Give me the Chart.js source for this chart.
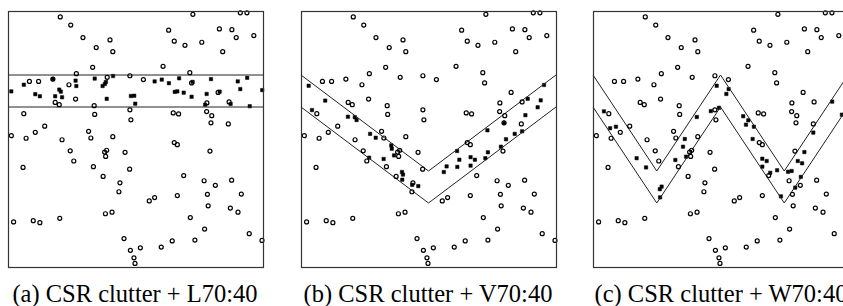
<!DOCTYPE html>
<html>
<head>
<meta charset="utf-8">
<script src="https://cdn.jsdelivr.net/npm/chart.js@4.4.1/dist/chart.umd.min.js"></script>
<style>
body { margin: 0; background: #fff; width: 843px; height: 306px; overflow: hidden; position: relative; }
.panel { position: absolute; top: 5px; width: 267px; height: 268px; }
.caption { position: absolute; top: 280px; width: 300px; text-align: center; font-family: "Liberation Serif", "DejaVu Serif", serif; font-size: 24.5px; color: #000; white-space: nowrap; }
</style>
</head>
<body>
<div class="panel" style="left:2px"><canvas id="chartA"></canvas></div>
<div class="panel" style="left:295px"><canvas id="chartB"></canvas></div>
<div class="panel" style="left:587px"><canvas id="chartC"></canvas></div>
<div class="caption" style="left:-15px">(a) CSR clutter + L70:40</div>
<div class="caption" style="left:278px">(b) CSR clutter + V70:40</div>
<div class="caption" style="left:571px">(c) CSR clutter + W70:40</div>
<script>
// CSR clutter, same in all three panels (unit square scaled to 0..100)
const clutterX = [20.5, 24.6, 29.4, 40.0, 34.6, 41.1, 33.2, 26.8, 47.8, 38.9, 8.4, 12.0, 17.6, 23.9, 26.5, 18.5, 20.1, 33.8, 47.8, 6.2,
  34.0, 48.2, 14.4, 10.7, 31.6, 1.3, 7.1, 21.2, 32.5, 41.1, 72.5, 91.1, 93.7, 63.0, 82.9, 87.8, 89.5, 96.4, 65.2, 69.4,
  76.0, 84.2, 60.8, 71.3, 53.1, 72.0, 82.4, 64.8, 66.9, 77.9, 79.9, 78.0, 86.7, 79.6, 86.4, 24.4, 37.9, 38.7, 38.3, 45.9,
  5.9, 25.8, 33.5, 47.7, 37.3, 43.9, 43.5, 2.2, 9.9, 12.5, 20.3, 38.2, 40.8, 45.5, 48.0, 49.4, 49.8, 65.2, 66.4, 79.2,
  68.9, 76.9, 81.3, 87.7, 55.4, 57.5, 66.4, 78.2, 91.5, 78.5, 87.2, 90.2, 71.5, 77.1, 94.6, 99.6, 73.3, 64.4, 60.1, 51.9];
const clutterY = [97.7, 94.5, 89.6, 88.7, 85.7, 84.1, 78.0, 75.5, 74.7, 74.1, 72.5, 72.5, 73.4, 71.2, 65.6, 64.3, 63.4, 63.0, 61.4, 59.9,
  59.6, 57.5, 55.0, 52.6, 53.0, 51.3, 50.3, 49.7, 50.4, 50.9, 98.7, 99.3, 99.3, 92.5, 93.0, 92.7, 89.6, 90.4, 88.2, 86.6,
  87.8, 84.1, 78.4, 75.9, 73.2, 71.9, 68.2, 60.2, 59.8, 60.7, 59.1, 64.1, 64.5, 56.3, 55.9, 45.4, 44.9, 45.6, 43.2, 44.8,
  38.9, 41.4, 39.2, 38.2, 35.4, 32.9, 29.4, 17.6, 18.1, 17.3, 19.0, 20.8, 21.4, 11.1, 6.5, 3.6, 1.4, 48.6, 47.8, 45.3,
  35.7, 33.7, 31.9, 33.9, 25.8, 27.1, 27.9, 28.4, 28.5, 23.9, 23.0, 21.4, 19.3, 14.8, 13.0, 10.4, 10.5, 10.2, 7.8, 7.5];

// signal points, line (L), V and W shapes
const lineX = [1.3, 6.2, 10.7, 12.5, 17.6, 20.1, 20.7, 18.5, 21.2, 26.5, 26.8, 34.0, 37.1, 38.0, 38.4, 41.2, 38.7, 48.2, 49.5, 49.9,
  57.5, 60.3, 63.1, 67.1, 72.4, 79.6, 90.1, 93.8, 91.1, 99.7, 65.4, 66.4, 68.9, 72.0, 77.9, 83.0, 77.3, 87.3, 94.8];
const lineY = [68.6, 71.2, 67.5, 66.7, 73.4, 69.3, 68.5, 66.7, 66.3, 72.8, 70.7, 73.6, 70.7, 71.5, 72.3, 74.6, 65.7, 66.8, 66.9, 63.8,
  72.5, 73.2, 71.8, 73.7, 72.3, 73.4, 72.5, 73.9, 69.5, 69.1, 68.4, 68.6, 68.1, 66.5, 67.6, 68.5, 63.4, 63.7, 62.8];
const vX = [3.0, 9.5, 4.3, 18.4, 21.1, 21.8, 27.1, 29.3, 35.4, 35.6, 36.5, 26.7, 32.4, 39.6, 40.0, 39.7, 43.6, 46.0, 80.4, 78.4,
  61.2, 73.3, 62.1, 66.5, 68.2, 72.3, 57.1, 61.3, 66.5, 56.0, 95.3, 88.9, 94.0, 92.8, 88.0, 79.7, 73.1, 83.8, 86.7];
const vY = [70.8, 65.0, 61.3, 58.7, 58.5, 57.4, 52.0, 50.5, 47.5, 46.2, 43.6, 42.7, 42.2, 37.1, 36.1, 34.1, 32.1, 31.6, 49.9, 47.0,
  45.3, 44.8, 41.9, 42.9, 41.9, 42.5, 39.3, 39.1, 39.6, 37.1, 71.1, 65.7, 65.1, 62.4, 59.3, 56.3, 53.4, 52.0, 53.0];
const wX = [4.3, 6.7, 9.0, 36.0, 40.7, 46.2, 49.4, 48.5, 35.3, 17.1, 20.8, 32.3, 36.5, 26.9, 26.2, 26.3, 53.2, 52.3, 58.9, 60.9,
  60.0, 63.1, 62.6, 93.8, 97.6, 86.4, 66.4, 68.1, 66.4, 69.5, 72.2, 76.5, 77.9, 82.9, 80.3, 82.0, 81.5, 79.3, 73.7];
const wY = [60.8, 54.2, 54.8, 50.0, 58.6, 60.9, 62.2, 70.8, 47.0, 42.5, 38.9, 41.8, 43.1, 31.4, 30.4, 27.2, 69.5, 67.6, 58.9, 57.3,
  55.6, 54.8, 50.0, 64.6, 59.5, 52.5, 42.3, 41.4, 39.2, 36.8, 37.8, 37.2, 37.5, 44.9, 41.4, 40.5, 35.2, 31.0, 27.6];

// band edges
const lEdgeX = [0, 100];
const lUpper = [75, 75];
const lLower = [62.5, 62.5];
const vEdgeX = [0, 50, 100];
const vUpper = [75, 37.5, 75];
const vLower = [62.5, 25, 62.5];
const wEdgeX = [0, 25, 50, 75, 100];
const wUpper = [75, 37.5, 75, 37.5, 75];
const wLower = [62.5, 25, 62.5, 25, 62.5];

function toPoints(xs, ys) {
  return xs.map((x, i) => ({ x: x, y: ys[i] }));
}

const frame = {
  id: 'frame',
  afterDraw(chart) {
    const a = chart.chartArea;
    const ctx = chart.ctx;
    ctx.save();
    ctx.strokeStyle = '#333';
    ctx.lineWidth = 1.2;
    ctx.strokeRect(Math.round(a.left) + 0.5, Math.round(a.top) + 0.5, Math.round(a.right - a.left), Math.round(a.bottom - a.top));
    ctx.restore();
  }
};

function makePanel(id, edgeX, upper, lower, sigX, sigY) {
  const ctx = document.getElementById(id).getContext('2d');
  const edge = (ys) => ({
    type: 'line',
    data: toPoints(edgeX, ys),
    borderColor: '#222',
    borderWidth: 1,
    pointRadius: 0,
    fill: false,
    tension: 0
  });
  return new Chart(ctx, {
    type: 'scatter',
    data: {
      datasets: [
        {
          data: toPoints(clutterX, clutterY),
          pointStyle: 'circle',
          pointRadius: 2,
          borderWidth: 1.2,
          borderColor: '#000',
          backgroundColor: 'rgba(0,0,0,0)'
        },
        edge(upper),
        edge(lower),
        {
          data: toPoints(sigX, sigY),
          pointStyle: 'rect',
          pointRadius: 2.4,
          borderWidth: 0.5,
          borderColor: '#000',
          backgroundColor: '#000'
        }
      ]
    },
    options: {
      responsive: true,
      maintainAspectRatio: false,
      animation: false,
      clip: false,
      layout: { padding: 6 },
      plugins: { legend: { display: false }, tooltip: { enabled: false } },
      scales: {
        x: { type: 'linear', min: 0, max: 100, display: false },
        y: { type: 'linear', min: 0, max: 100, display: false }
      }
    },
    plugins: [frame]
  });
}

makePanel('chartA', lEdgeX, lUpper, lLower, lineX, lineY);
makePanel('chartB', vEdgeX, vUpper, vLower, vX, vY);
makePanel('chartC', wEdgeX, wUpper, wLower, wX, wY);
</script>
</body>
</html>
